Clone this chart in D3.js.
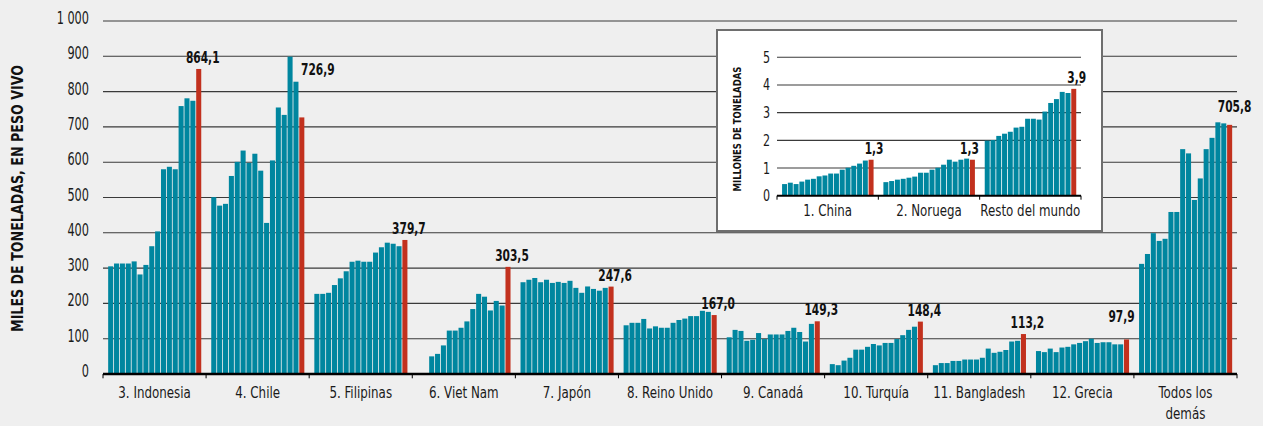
<!DOCTYPE html>
<html>
<head>
  <meta charset="utf-8" />
  <script src="https://cdn.jsdelivr.net/npm/d3@7"></script>
  <style>
    body { margin: 0; background: #efefef; }
    svg { display: block; }
    .grid line { stroke: #3a3a3a; stroke-width: 1.1px; }
  </style>
</head>
<body>
<script>
  "use strict";

  // years shown in every group (one bar each, the last one is highlighted)
  var years = [2001, 2002, 2003, 2004, 2005, 2006, 2007, 2008, 2009, 2010, 2011, 2012, 2013, 2014, 2015, 2016];

  // main chart, thousand tonnes live weight
  var mainGroups = ["3. Indonesia", "4. Chile", "5. Filipinas", "6. Viet Nam", "7. Japón", "8. Reino Unido",
    "9. Canadá", "10. Turquía", "11. Bangladesh", "12. Grecia", "Todos los\ndemás"];
  var indonesia = [305, 313, 313, 313, 319, 282, 309, 362, 404, 580, 587, 580, 759, 781, 774, 864.1];
  var chile = [501, 477, 482, 561, 601, 633, 598, 624, 576, 428, 605, 755, 734, 899, 828, 726.9];
  var filipinas = [227, 227, 230, 252, 271, 291, 318, 321, 318, 318, 344, 359, 372, 369, 362, 379.7];
  var vietNam = [null, null, 50, 57, 81, 123, 123, 131, 149, 184, 227, 219, 180, 207, 194, 303.5];
  var japon = [260, 267, 272, 260, 267, 258, 261, 258, 264, 244, 230, 248, 241, 236, 244, 247.6];
  var reinoUnido = [138, 145, 145, 156, 129, 135, 131, 131, 145, 153, 157, 164, 164, 179, 176, 167.0];
  var canada = [104, 125, 122, 94, 97, 116, 99, 112, 112, 112, 122, 131, 119, 92, 142, 149.3];
  var turquia = [28, 25, 38, 46, 69, 69, 77, 85, 81, 88, 88, 99, 110, 125, 134, 148.4];
  var bangladesh = [25, 31, 31, 37, 37, 41, 41, 41, 46, 72, 60, 63, 68, 92, 94, 113.2];
  var grecia = [65, 62, 72, 62, 75, 77, 84, 88, 93, 100, 88, 90, 90, 84, 84, 97.9];
  var todosLosDemas = [312, 340, 399, 377, 383, 459, 459, 637, 625, 493, 554, 637, 669, 713, 710, 705.8];
  var mainTicks = [0, 100, 200, 300, 400, 500, 600, 700, 800, 900, 1000];
  var mainTickLabels = ["0", "100", "200", "300", "400", "500", "600", "700", "800", "900", "1 000"];

  // inset, million tonnes
  var insetGroups = ["1. China", "2. Noruega", "Resto del mundo"];
  var china = [0.42, 0.47, 0.42, 0.51, 0.58, 0.61, 0.70, 0.73, 0.80, 0.80, 0.94, 1.01, 1.08, 1.16, 1.27, 1.30];
  var noruega = [0.49, 0.53, 0.58, 0.61, 0.65, 0.69, 0.83, 0.83, 0.94, 1.01, 1.12, 1.30, 1.23, 1.30, 1.34, 1.30];
  var restoDelMundo = [1.99, 2.01, 2.16, 2.24, 2.31, 2.46, 2.49, 2.78, 2.78, 2.75, 3.04, 3.35, 3.49, 3.75, 3.71, 3.86];
  var insetTicks = [0, 1, 2, 3, 4, 5];

  var mainSeries = [indonesia, chile, filipinas, vietNam, japon, reinoUnido, canada, turquia, bangladesh, grecia, todosLosDemas];
  var insetSeries = [china, noruega, restoDelMundo];

  var FONT = "'DejaVu Sans Condensed','Liberation Sans Narrow','Arial Narrow',sans-serif";
  var TEAL = "#00869f",
    RED = "#c2311e";

  // a few value labels sit off their default spot in the original
  var labelNudge = {
    "4. Chile": [12, -36],
    "12. Grecia": [-9, -11],
    "Todos los\ndemás": [1, -7],
    "2. Noruega": [-6, 0]
  };

  var fmt = function(v) {
    return d3.format(".1f")(v).replace(".", ",");
  };

  // the original uses a very condensed face, squeeze the glyphs horizontally
  function at(x, y, sx) {
    return "translate(" + x + "," + y + ") scale(" + sx + ",1)";
  }

  var width = 1263,
    height = 426;

  var svg = d3.select("body").append("svg")
    .attr("width", width)
    .attr("height", height)
    .style("font-family", FONT);

  svg.append("rect").attr("width", width).attr("height", height).attr("fill", "#efefef");

  function drawPanel(g, opts) {
    var x = d3.scaleBand().domain(opts.groups).range(opts.xRange).padding(0);
    var gw = x.bandwidth();
    var xi = d3.scaleBand().domain(years).range([gw * 0.05, gw * 0.953]).paddingInner(0.14);
    var y = d3.scaleLinear().domain(opts.yDomain).range(opts.yRange);

    // gridlines
    g.append("g").attr("class", "grid")
      .selectAll("line").data(opts.ticks.slice(1)).join("line")
      .attr("x1", opts.xRange[0]).attr("x2", opts.xRange[1])
      .attr("y1", function(d) { return y(d); })
      .attr("y2", function(d) { return y(d); });

    // y tick labels
    g.append("g").selectAll("text").data(opts.ticks).join("text")
      .attr("transform", function(d) { return at(opts.tickX, y(d) + opts.tickDy, opts.tickSx); })
      .attr("text-anchor", "end")
      .attr("font-size", opts.tickSize)
      .attr("fill", "#1a1a1a")
      .text(function(d, i) { return opts.tickLabels[i]; });

    // bars
    var groupsG = g.append("g").selectAll("g").data(opts.groups).join("g")
      .attr("transform", function(d) { return "translate(" + x(d) + ",0)"; });

    groupsG.selectAll("rect")
      .data(function(d, i) {
        return opts.series[i].map(function(v, j) { return { year: years[j], value: v, last: j === years.length - 1 }; })
          .filter(function(b) { return b.value !== null; });
      })
      .join("rect")
      .attr("x", function(b) { return xi(b.year); })
      .attr("width", xi.bandwidth())
      .attr("y", function(b) { return y(b.value); })
      .attr("height", function(b) { return y(0) - y(b.value); })
      .attr("fill", function(b) { return b.last ? RED : TEAL; });

    // value label for the last year
    groupsG.append("text")
      .attr("text-anchor", "middle")
      .attr("font-weight", "bold")
      .attr("font-size", opts.valueSize)
      .attr("fill", "#111")
      .attr("transform", function(d, i) {
        var s = opts.series[i];
        var n = labelNudge[d] || [0, 0];
        var lx = xi(years[years.length - 1]) + xi.bandwidth() / 2 + opts.labelDx + n[0];
        var ly = y(s[s.length - 1]) - 6 + n[1];
        return at(lx, ly, opts.valueSx);
      })
      .text(function(d, i) {
        var s = opts.series[i];
        return fmt(s[s.length - 1]);
      });

    // x axis
    g.append("line")
      .attr("x1", opts.xRange[0]).attr("x2", opts.xRange[1])
      .attr("y1", y(0)).attr("y2", y(0))
      .attr("stroke", "#000").attr("stroke-width", opts.axisWidth);

    var bounds = opts.groups.map(function(d) { return x(d); }).concat([opts.xRange[1]]);
    g.append("g").selectAll("line").data(bounds).join("line")
      .attr("x1", function(d) { return d; }).attr("x2", function(d) { return d; })
      .attr("y1", y(0)).attr("y2", y(0) + opts.axisWidth / 2 + 3)
      .attr("stroke", "#000").attr("stroke-width", 1);

    // category labels
    g.append("g").selectAll("text").data(opts.groups).join("text")
      .attr("text-anchor", "middle")
      .attr("font-size", opts.catSize)
      .attr("fill", "#1a1a1a")
      .attr("transform", function(d) { return at(x(d) + gw / 2, opts.catY, opts.catSx); })
      .selectAll("tspan").data(function(d) { return d.split("\n"); }).join("tspan")
      .attr("x", 0)
      .attr("dy", function(d, i) { return i === 0 ? 0 : opts.catLine; })
      .text(function(d) { return d; });

    return y;
  }

  // main chart
  var main = svg.append("g");
  drawPanel(main, {
    groups: mainGroups,
    series: mainSeries,
    xRange: [103, 1237],
    yDomain: [0, 1000],
    yRange: [374, 21],
    ticks: mainTicks,
    tickLabels: mainTickLabels,
    tickX: 89,
    tickDy: 3,
    tickSize: 17,
    tickSx: 0.74,
    valueSize: 16,
    valueSx: 0.74,
    labelDx: 4,
    axisWidth: 2.6,
    catSize: 16.5,
    catSx: 0.8,
    catY: 398,
    catLine: 21
  });

  main.append("text")
    .attr("transform", "translate(23,198.5) rotate(-90) scale(0.88,1)")
    .attr("text-anchor", "middle")
    .attr("font-weight", "bold")
    .attr("font-size", 16)
    .attr("fill", "#111")
    .text("MILES DE TONELADAS, EN PESO VIVO");

  // inset box
  var inset = svg.append("g");
  inset.append("rect")
    .attr("x", 717).attr("y", 30)
    .attr("width", 385).attr("height", 201)
    .attr("fill", "#fff")
    .attr("stroke", "#6e6e6e")
    .attr("stroke-width", 2);

  drawPanel(inset, {
    groups: insetGroups,
    series: insetSeries,
    xRange: [777, 1081],
    yDomain: [0, 5],
    yRange: [195.7, 57.3],
    ticks: insetTicks,
    tickLabels: insetTicks.map(String),
    tickX: 770,
    tickDy: 5.5,
    tickSize: 15.5,
    tickSx: 0.8,
    valueSize: 16,
    valueSx: 0.74,
    labelDx: 3,
    axisWidth: 2,
    catSize: 15.5,
    catSx: 0.85,
    catY: 216,
    catLine: 18
  });

  inset.append("text")
    .attr("transform", "translate(741,129) rotate(-90) scale(0.86,1)")
    .attr("text-anchor", "middle")
    .attr("font-weight", "bold")
    .attr("font-size", 11)
    .attr("fill", "#111")
    .text("MILLONES DE TONELADAS");
</script>
</body>
</html>
